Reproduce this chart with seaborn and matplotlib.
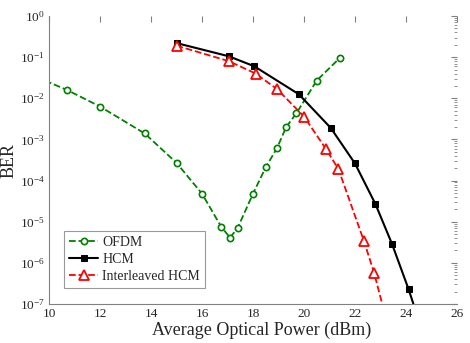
import numpy as np
import pandas as pd
import seaborn as sns
import matplotlib.pyplot as plt
from matplotlib.ticker import LogLocator, NullFormatter

# values
ofdm_power = [9.5, 10.7, 12.0, 13.75, 15.0, 16.0, 16.75, 17.1, 17.4, 18.0, 18.5, 18.95, 19.3, 19.7, 20.5, 21.4]
ofdm_ber = [3.3e-2, 1.6e-2, 6.3e-3, 1.4e-3, 2.7e-4, 4.8e-5, 7.6e-6, 4.1e-6, 7.1e-6, 4.8e-5, 2.1e-4, 6.3e-4, 2.0e-3, 4.3e-3, 2.7e-2, 9.5e-2]

hcm_power = [15.0, 17.05, 18.05, 19.8, 21.05, 22.0, 22.8, 23.45, 24.1, 24.5]
hcm_ber = [2.2e-1, 1.05e-1, 6.0e-2, 1.25e-2, 1.9e-3, 2.6e-4, 2.7e-5, 2.9e-6, 2.3e-7, 4.0e-8]

ihcm_power = [15.0, 17.05, 18.1, 18.95, 20.0, 20.85, 21.35, 22.35, 22.75, 23.3]
ihcm_ber = [1.9e-1, 8.0e-2, 4.0e-2, 1.66e-2, 3.6e-3, 6.0e-4, 1.9e-4, 3.4e-6, 5.7e-7, 2.8e-8]

x_ticks = [10, 12, 14, 16, 18, 20, 22, 24, 26]

sns.set_style("white")
plt.rcParams["font.family"] = ["Liberation Serif", "DejaVu Serif"]
plt.rcParams["mathtext.fontset"] = "custom"
plt.rcParams["mathtext.rm"] = "Liberation Serif"
plt.rcParams["mathtext.it"] = "Liberation Serif:italic"

fig = plt.figure(figsize=(4.7, 3.43), dpi=100)
ax = fig.add_axes([49 / 470, 1 - 304 / 343, (457 - 49) / 470, (304 - 16) / 343])

df_ofdm = pd.DataFrame({"p": ofdm_power, "ber": ofdm_ber})
df_hcm = pd.DataFrame({"p": hcm_power, "ber": hcm_ber})
df_ihcm = pd.DataFrame({"p": ihcm_power, "ber": ihcm_ber})

sns.lineplot(data=df_ofdm, x="p", y="ber", ax=ax, color="#008000", linestyle="--",
             marker="o", markersize=4.5, markerfacecolor="white", markeredgecolor="#008000",
             markeredgewidth=1.2, linewidth=1.3, label="OFDM", sort=False)
sns.lineplot(data=df_hcm, x="p", y="ber", ax=ax, color="black", linestyle="-",
             marker="s", markersize=5, markerfacecolor="black", markeredgecolor="black",
             linewidth=1.5, label="HCM", sort=False)
sns.lineplot(data=df_ihcm, x="p", y="ber", ax=ax, color="red", linestyle="--",
             marker="^", markersize=6.5, markerfacecolor="white", markeredgecolor="red",
             markeredgewidth=1.3, linewidth=1.3, label="Interleaved HCM", sort=False)

ax.set_yscale("log")
ax.set_xlim(10, 26)
ax.set_ylim(1e-7, 1)
ax.set_xticks(x_ticks)
ax.set_xticklabels([str(t) for t in x_ticks])
ax.yaxis.set_major_locator(LogLocator(base=10, numticks=10))
ax.yaxis.set_minor_locator(LogLocator(base=10, subs=np.arange(2, 10), numticks=10))
ax.yaxis.set_minor_formatter(NullFormatter())
ax.xaxis.get_offset_text().set_visible(False)
ax.yaxis.get_offset_text().set_visible(False)

for side in ["top", "right"]:
    ax.spines[side].set_visible(False)
for side in ["left", "bottom"]:
    ax.spines[side].set_color("#808080")
    ax.spines[side].set_linewidth(0.8)

ax.tick_params(which="both", direction="in", top=True, right=True, color="#808080",
               labelsize=9.5, pad=3)
ax.tick_params(which="major", length=4)
ax.tick_params(which="minor", length=2)

ax.set_xlabel("Average Optical Power (dBm)", fontsize=13)
ax.set_ylabel("BER", fontsize=13)
ax.xaxis.set_label_coords(0.52, -0.062)
ax.yaxis.set_label_coords(-0.078, 0.5)

leg = ax.legend(loc="lower left", bbox_to_anchor=(0.037, 0.055), fontsize=10,
                frameon=True, fancybox=False, handlelength=2.1, borderpad=0.35,
                labelspacing=0.3, handletextpad=0.3, borderaxespad=0)
leg.get_frame().set_edgecolor("#808080")
leg.get_frame().set_linewidth(0.8)

fig.savefig("out.png", dpi=100)
